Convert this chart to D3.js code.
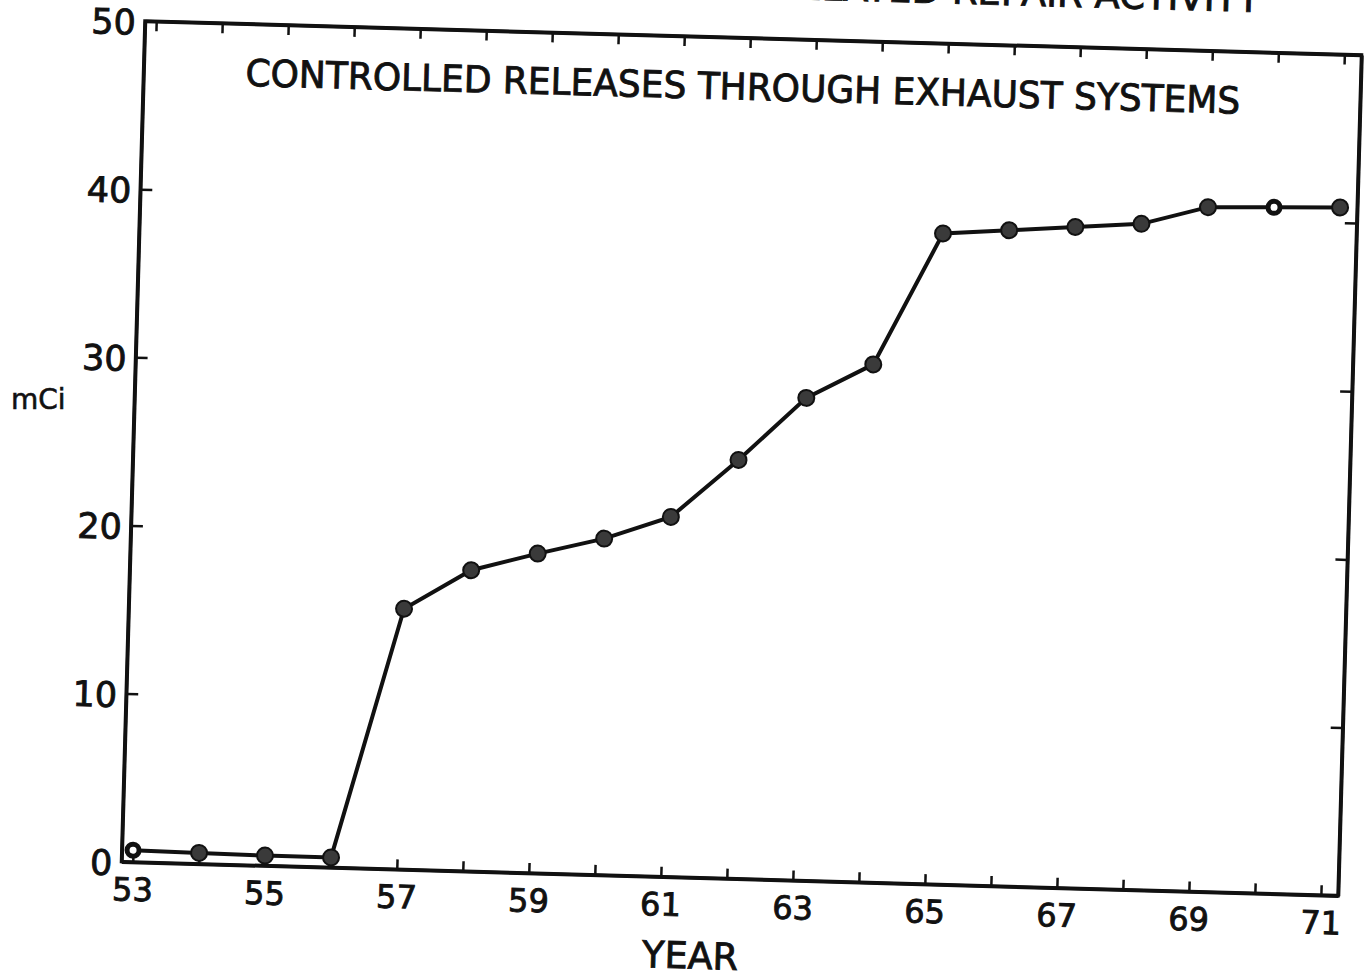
<!DOCTYPE html>
<html>
<head>
<meta charset="utf-8">
<script src="https://cdn.jsdelivr.net/npm/d3@7"></script>
<style>
  body { margin: 0; background: #fff; }
  svg text { font-family: "DejaVu Sans", sans-serif; fill: #111; stroke: #111; stroke-width: 0.9px; }
</style>
</head>
<body>
<div id="chart"></div>
<script>
// data
const years = [53, 54, 55, 56, 57, 58, 59, 60, 61, 62, 63, 64, 65, 66, 67, 68, 69, 70, 71];
const releases = [0.7, 0.65, 0.6, 0.6, 15.5, 17.9, 19.0, 20.0, 21.4, 24.9, 28.7, 30.8, 38.7, 39.0, 39.3, 39.6, 40.7, 40.8, 40.9];
const openPoints = [53, 70];
const xTickLabels = [53, 55, 57, 59, 61, 63, 65, 67, 69, 71];
const yTicks = [0, 10, 20, 30, 40, 50];

const width = 1367, height = 978;
// the scan is slightly tilted, so the whole plot is drawn in a rotated group
const origin = {x: 145, y: 21};
const tilt = 1.6;
const plotW = 1217, plotH = 841;

const svg = d3.select("#chart").append("svg")
    .attr("width", width)
    .attr("height", height);

const g = svg.append("g")
    .attr("transform", "translate(" + origin.x + "," + origin.y + ") rotate(" + tilt + ")");

const x = d3.scaleLinear().domain([52.83, 71.26]).range([0, plotW]);
const y = d3.scaleLinear().domain([0, 50]).range([plotH, 0]);

// frame
g.append("rect")
    .attr("x", 0).attr("y", 0)
    .attr("width", plotW).attr("height", plotH)
    .attr("fill", "none")
    .attr("stroke", "#111")
    .attr("stroke-width", 3.5);

// axes, ticks pointing inward
const bottomAxis = d3.axisBottom(x)
    .tickValues(years)
    .tickFormat(function(d) { return xTickLabels.includes(d) ? d : ""; })
    .tickSizeInner(-10).tickSizeOuter(0).tickPadding(16);
const topAxis = d3.axisTop(x)
    .tickValues(years).tickFormat("")
    .tickSizeInner(-10).tickSizeOuter(0);
const leftAxis = d3.axisLeft(y)
    .tickValues(yTicks)
    .tickFormat(function(d) { return d; })
    .tickSizeInner(-12).tickSizeOuter(0).tickPadding(9);
const rightAxis = d3.axisRight(y)
    .tickValues(yTicks.slice(1, 5)).tickFormat("")
    .tickSizeInner(-12).tickSizeOuter(0);

g.append("g").attr("transform", "translate(0," + plotH + ")").call(bottomAxis)
    .call(function(a) { a.selectAll("text").style("font-size", "32px"); });
g.append("g").call(topAxis);
g.append("g").call(leftAxis)
    .call(function(a) { a.selectAll("text").style("font-size", "35px").attr("dy", "0.38em"); });
g.append("g").attr("transform", "translate(" + plotW + ",0)").call(rightAxis);

g.selectAll(".domain").attr("stroke", "#111").attr("stroke-width", 3.5);
g.selectAll(".tick line").attr("stroke", "#111").attr("stroke-width", 2.5);
g.selectAll(".tick text").attr("fill", "#111").attr("stroke", "#111").attr("stroke-width", 0.9)
    .style("font-family", "DejaVu Sans, sans-serif");

// series line and markers
const points = years.map(function(yr, i) { return {year: yr, value: releases[i]}; });

const line = d3.line()
    .x(function(d) { return x(d.year); })
    .y(function(d) { return y(d.value); });

g.append("path")
    .datum(points)
    .attr("d", line)
    .attr("fill", "none")
    .attr("stroke", "#111")
    .attr("stroke-width", 4);

g.selectAll(".pt")
    .data(points)
    .enter()
    .append("circle")
    .attr("class", "pt")
    .attr("cx", function(d) { return x(d.year); })
    .attr("cy", function(d) { return y(d.value); })
    .attr("r", function(d) { return openPoints.includes(d.year) ? 6 : 8; })
    .attr("fill", function(d) { return openPoints.includes(d.year) ? "#fff" : "#3a3a3a"; })
    .attr("stroke", "#111")
    .attr("stroke-width", function(d) { return openPoints.includes(d.year) ? 5 : 2; });

// titles
g.append("text")
    .attr("x", 102).attr("y", 62)
    .attr("textLength", 995)
    .attr("lengthAdjust", "spacingAndGlyphs")
    .style("font-size", "37px")
    .text("CONTROLLED RELEASES THROUGH EXHAUST SYSTEMS");

// heading of the page above, cut off by the scan edge
g.append("text")
    .attr("x", 1114).attr("y", -40)
    .attr("text-anchor", "end")
    .style("font-size", "37px")
    .text("RELATED REPAIR ACTIVITY");

g.append("text")
    .attr("x", 571).attr("y", 932)
    .attr("text-anchor", "middle")
    .attr("textLength", 96)
    .attr("lengthAdjust", "spacingAndGlyphs")
    .style("font-size", "37px")
    .text("YEAR");

svg.append("text")
    .attr("x", 11).attr("y", 409)
    .style("font-size", "28px")
    .style("stroke-width", "0.6px")
    .text("mCi");
</script>
</body>
</html>
